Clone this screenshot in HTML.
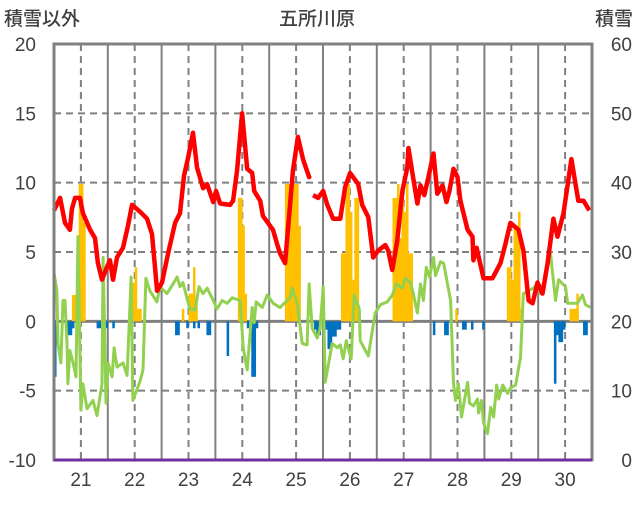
<!DOCTYPE html>
<html><head><meta charset="utf-8">
<style>
html,body{margin:0;padding:0;background:#fff;}
svg text{font-family:"Liberation Sans","Noto Sans CJK JP",sans-serif;fill:#404040;}
</style></head>
<body>
<svg id="chart" width="636" height="501" viewBox="0 0 636 501" xmlns="http://www.w3.org/2000/svg">
<text x="4" y="25" font-size="19" font-weight="500">積雪以外</text>
<text x="317" y="25" font-size="19" font-weight="500" text-anchor="middle">五所川原</text>
<text x="633" y="25" font-size="19" font-weight="500" text-anchor="end">積雪</text>
<g id="grid"></g>
<g id="bars"></g>
<g id="lines"></g>
<g id="axes"></g>
</svg>
<script>
const dayLabels=["21","22","23","24","25","26","27","28","29","30"];
const leftTicks=[20,15,10,5,0,-5,-10];
const rightTicks=[60,50,40,30,20,10,0];
const redHours=[0,2.7,4.9,7.1,8,9.4,11.6,12.9,16.1,18.3,19.6,21.4,23.6,25,26.3,28.1,30.8,33,34.8,38.4,41.5,43.7,46,48.2,50.9,54,56.2,58,59.8,62,63.8,66.5,68.3,71,72.3,74.1,78.5,79.9,81.7,83.9,86.2,88.4,89.3,92,93.2,97.7,99.5,100.8,103.1,106.6,108.8,111.1,113.8,114.2,null,115.6,117.8,120.1,121.9,124.5,127.7,129.9,132.1,135.7,137.5,140.2,142.4,144.6,147.8,149.1,150.9,153.1,155.4,157.6,158.1,159.9,162.1,163.5,165.2,167,169.3,171,173.3,175.1,176.4,178.2,180,181.3,184.5,186.7,187.1,188.5,191.6,195.6,199.2,201.4,203.6,207.2,209.4,211.7,213.5,215.7,217.9,220.2,222.8,224.6,227.3,230.8,233.9,236.2,238.8];
const redVals=[8.0,8.9,7.1,6.6,8.1,8.9,8.9,7.8,6.6,6.0,4.2,3.0,3.9,4.4,3.0,4.6,5.3,6.9,8.4,7.9,7.4,6.3,2.2,2.8,4.9,7.1,7.8,10.5,11.8,13.6,11.1,9.6,9.9,8.6,9.4,8.5,8.4,8.7,10.9,15.0,11.0,10.7,9.4,8.7,7.6,6.6,5.6,4.9,4.2,10.9,13.3,11.7,10.4,10.5,null,9.1,8.9,9.4,8.4,7.4,7.4,9.7,10.7,9.9,8.4,7.5,4.6,5.1,5.5,5.1,3.7,5.8,9.4,11.1,12.5,10.7,8.5,9.8,9.1,10.4,12.1,9.2,9.8,8.6,9.4,11.0,10.4,8.7,6.6,6.1,4.4,5.3,3.1,3.1,4.2,5.6,7.1,6.6,5.1,1.5,1.3,2.8,2.0,4.2,7.4,6.1,7.8,11.7,8.7,8.7,8.0];
const greenHours=[0,1.3,1.8,3.1,4,4.9,5.8,6.2,7.1,8.5,9.8,10.7,12,12.9,14.7,17.4,19.2,21.4,21.9,23.2,24.1,25.9,26.8,28.1,30.8,32.6,34.4,35.2,38.4,39.7,41,42.8,45.9,47.3,50.4,53.1,54.9,56.2,57.5,60.6,62.9,64.7,66.5,68.3,70.5,72.7,75,77.2,79.5,83,84.4,86.2,88.4,89.3,90.2,92.9,95.1,97.8,100.8,105.3,106.2,108.4,110.7,112.9,113.8,115.2,117.4,118.7,120.1,121,124.1,126.4,127.7,129,130.4,132.6,133.9,136.2,136.6,140.2,143.3,145.6,148.7,150.9,152.7,155.4,156.7,159,160.3,162.1,163.5,164.8,166.1,167.5,169.3,170.2,172.4,173.8,176.9,178.2,179.1,180.4,181.8,184.5,185.4,187.1,188.9,189.4,190.7,191.6,193.4,194.8,196.1,197.5,198.4,200.2,202.4,203.6,205.9,208.1,209.4,211.7,213.9,215.7,217.1,219.3,221.5,223.7,225.1,226.9,228.2,229.1,231.7,233.5,235.7,237.1,239.3];
const greenVals=[3.5,2.2,-1.6,-3.0,1.5,1.5,-1.6,-4.5,-2.1,-3.0,-4.0,6.1,-6.4,-4.5,-6.3,-5.7,-6.8,-4.5,4.6,-5.9,-3.0,-4.0,-1.9,-3.3,-3.0,-3.9,3.2,-5.7,-4.3,-3.5,3.1,2.2,1.4,2.5,2.0,2.7,3.2,2.5,2.8,0.9,0.8,2.5,2.0,2.4,1.7,0.9,1.5,1.3,1.7,1.5,-1.9,-3.5,1.0,-0.1,1.4,1.0,1.9,1.3,1.0,1.7,2.4,1.4,-1.6,-1.7,2.7,-0.5,-1.2,-0.5,2.5,-4.4,-1.6,-1.9,-1.7,-2.7,-1.4,-2.7,1.9,0.9,-1.4,-2.5,0.6,1.2,1.4,1.9,2.7,2.4,3.1,2.8,2.0,0.6,2.7,1.5,3.9,3.2,4.6,3.3,4.3,4.2,1.5,-4.5,-5.7,-4.5,-6.9,-4.4,-5.9,-6.1,-5.6,-6.6,-5.7,-7.3,-8.1,-6.2,-6.9,-4.6,-5.6,-4.6,-5.2,-4.8,-4.6,-2.6,2.0,2.2,2.4,2.7,2.0,3.2,4.9,1.5,3.0,2.7,2.5,1.3,1.3,1.3,1.9,1.2,1.0];
const yellowHours=[8,9,10,11,12,13,34,35,36,37,38,57,60,61,62,63,82,83,84,85,103,104,105,106,107,108,109,128,129,130,131,132,133,134,135,151,152,153,154,155,156,157,158,159,179,202,203,204,205,206,207,208,230,231,232,233];
const yellowVals=[1.9,1.9,6.2,9.9,9.9,7.1,2.8,2.8,3.9,0.9,0.9,0.9,2.0,2.0,3.9,1.3,8.9,8.9,6.9,2.0,9.9,9.9,9.9,9.9,9.9,9.9,6.9,4.9,4.9,9.9,9.9,7.9,3.0,8.9,8.9,8.9,8.9,9.9,6.0,9.9,7.9,9.9,4.9,4.9,0.9,3.9,3.9,3.0,6.9,6.9,7.9,0.9,0.9,0.9,0.9,2.0];
const blueHours=[0,1,6,7,8,19,20,23,26,54,55,59,62,64,68,69,77,86,88,89,90,116,117,118,121,122,123,124,125,126,127,169,174,175,182,183,186,191,223,224,225,226,227,236,237];
const blueVals=[-4.0,-0.7,-1.0,-1.0,-0.5,-0.5,-0.5,-0.5,-0.5,-1.0,-1.0,-0.5,-0.5,-0.5,-1.0,-1.0,-2.5,-0.5,-4.0,-4.0,-0.5,-0.6,-1.0,-1.0,-0.6,-2.0,-2.0,-1.1,-1.1,-0.6,-0.6,-1.0,-1.0,-1.0,-0.6,-0.6,-0.6,-0.6,-4.5,-1.0,-1.5,-1.5,-0.6,-1.0,-1.0];

const NS="http://www.w3.org/2000/svg";
const L=54,R=592,T=44,B=460,HOURS=240;
function xs(h){return L+h*(R-L)/HOURS;}
function ys(v){return B-(v+10)*(B-T)/30;}
function mk(tag,attrs,parent){const e=document.createElementNS(NS,tag);for(const k in attrs)e.setAttribute(k,attrs[k]);parent.appendChild(e);return e;}
const grid=document.getElementById('grid'),bars=document.getElementById('bars'),lines=document.getElementById('lines'),axes=document.getElementById('axes');

leftTicks.forEach((v,i)=>{
  const y=ys(v);
  if(v!==20&&v!==-10&&v!==0){
    const g=mk('line',{x1:L,x2:R,y1:y,y2:y,stroke:'#808080','stroke-width':2,'stroke-dasharray':'7,5'},grid);
    
    
  }
  const t=mk('text',{x:36,y:y+7,'font-size':19,'text-anchor':'end'},axes);t.textContent=v;
  
  
  const t2=mk('text',{x:632,y:y+7,'font-size':19,'text-anchor':'end'},axes);t2.textContent=rightTicks[i];
  
  
});
dayLabels.forEach((d,i)=>{
  const xc=xs(i*24+12),xb=xs(i*24+24);
  const g=mk('line',{x1:xc,x2:xc,y1:T,y2:B,stroke:'#808080','stroke-width':2,'stroke-dasharray':'7,5'},grid);
  
  
  if(i<9){const s=mk('line',{x1:xb,x2:xb,y1:T,y2:B,stroke:'#808080','stroke-width':2},grid);
    
    }
  const t=mk('text',{x:xc,y:486,'font-size':19,'text-anchor':'middle'},axes);t.textContent=d;
  
  
});
const bw=(R-L)/HOURS;
yellowHours.forEach((h,i)=>{const r=mk('rect',{x:xs(h),y:ys(yellowVals[i]),width:bw+0.3,height:ys(0)-ys(yellowVals[i]),fill:'#FFC000'},bars);
  
  });
blueHours.forEach((h,i)=>{const r=mk('rect',{x:xs(h),y:ys(0),width:bw+0.3,height:ys(blueVals[i])-ys(0),fill:'#0070C0'},bars);
  
  });
const zl=mk('line',{x1:L,x2:R,y1:ys(0),y2:ys(0),stroke:'#808080','stroke-width':3},grid);


function path(hs,vs){let d='',pen=false;hs.forEach((h,i)=>{if(h===null||vs[i]===null){pen=false;return;}d+=(pen?'L':'M')+xs(h).toFixed(1)+','+ys(vs[i]).toFixed(1);pen=true;});return d;}
const gp=mk('path',{d:path(greenHours,greenVals),fill:'none',stroke:'#92D050','stroke-width':3,'stroke-linejoin':'round'},lines);


const rp=mk('path',{d:path(redHours,redVals),fill:'none',stroke:'#FF0000','stroke-width':4.5,'stroke-linejoin':'round'},lines);


const fr=mk('rect',{x:L,y:T,width:R-L,height:B-T,fill:'none',stroke:'#808080','stroke-width':3},axes);


const bl=mk('line',{x1:L,x2:R,y1:B,y2:B,stroke:'#7030A0','stroke-width':3},axes);


</script>
</body></html>
